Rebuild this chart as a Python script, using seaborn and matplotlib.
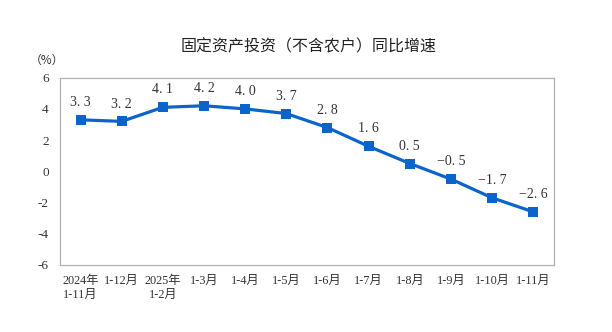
import matplotlib
matplotlib.use("Agg")
import matplotlib.pyplot as plt
import seaborn as sns
import pandas as pd
import numpy as np

categories = ["2024年\n1-11月", "1-12月", "2025年\n1-2月", "1-3月", "1-4月", "1-5月",
              "1-6月", "1-7月", "1-8月", "1-9月", "1-10月", "1-11月"]
values = [3.3, 3.2, 4.1, 4.2, 4.0, 3.7, 2.8, 1.6, 0.5, -0.5, -1.7, -2.6]
y_ticks = [-6, -4, -2, 0, 2, 4, 6]
title = "固定资产投资（不含农户）同比增速"
unit = "（%）"

sns.set_theme(style="white")
plt.rcParams['font.family'] = ['Liberation Serif', 'Noto Sans CJK SC', 'DejaVu Sans']

df = pd.DataFrame({"cat": categories, "val": values})

fig = plt.figure(figsize=(6.12, 3.32), dpi=100)
ax = fig.add_axes([0.098, 0.202, 0.807, 0.564])
blue = "#0b63cc"
sns.lineplot(data=df, x="cat", y="val", ax=ax, sort=False, color=blue,
             linewidth=2.3, marker="s", markersize=7.5, markeredgewidth=0,
             markerfacecolor=blue)

for i, v in enumerate(values):
    txt = f"{v:.1f}".replace(".", ". ").replace("-", "−")
    ax.annotate(txt, (i, v), xytext=(0, 12.5), textcoords="offset points",
                ha="center", va="center", fontsize=10, color="#333333")

ax.set_xlim(-0.5, len(categories) - 0.5)
ax.set_ylim(-6, 6)
ax.set_yticks(y_ticks)
ax.set_yticklabels([str(t) for t in y_ticks], fontsize=9.5, color="#333333")
ax.set_xticks(range(len(categories)))
ax.set_xticklabels(categories, fontsize=8.8, color="#333333", linespacing=1.25,
                   va="top")
ax.tick_params(axis="x", which="major", length=0, pad=7)
ax.set_xticks(np.arange(0.5, len(categories) - 1, 1.0), minor=True)
ax.tick_params(axis="x", which="minor", direction="in", length=4, color="#aaaaaa", width=0.8)
ax.tick_params(axis="y", which="major", direction="in", length=3, color="#aaaaaa", pad=8)
ax.set_xlabel("")
ax.set_ylabel("")
for s in ax.spines.values():
    s.set_visible(True)
    s.set_color("#b0b0b0")
    s.set_linewidth(0.9)

fig.text(0.505, 0.858, title, ha="center", va="center", fontsize=11.5,
         family=["Noto Sans CJK SC"], weight="medium", color="#222222")
fig.text(0.077, 0.818, unit, ha="center", va="center", fontsize=8.5,
         family=["Noto Sans CJK SC"], color="#333333")

fig.savefig("out.png", dpi=100)
